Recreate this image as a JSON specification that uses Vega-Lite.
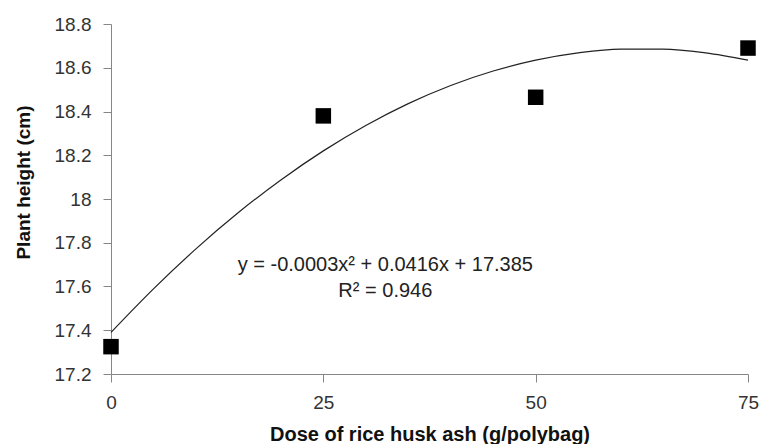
{
  "$schema": "https://vega.github.io/schema/vega-lite/v6.json",
  "width": 637,
  "height": 350,
  "autosize": "none",
  "padding": {"left": 111, "top": 24, "right": 13, "bottom": 70},
  "background": "white",
  "config": {"view": {"stroke": null}, "font": "Liberation Sans"},
  "datasets": {
    "curve": [
      {"x": 0, "y": 17.39}, {"x": 5, "y": 17.589}, {"x": 10, "y": 17.772}, {"x": 15, "y": 17.938},
      {"x": 20, "y": 18.087}, {"x": 25, "y": 18.22}, {"x": 30, "y": 18.336}, {"x": 35, "y": 18.436},
      {"x": 40, "y": 18.519}, {"x": 45, "y": 18.585}, {"x": 50, "y": 18.635}, {"x": 55, "y": 18.668},
      {"x": 60, "y": 18.685}, {"x": 65, "y": 18.685}, {"x": 70, "y": 18.668}, {"x": 75, "y": 18.635}
    ],
    "obs": [
      {"x": 0, "y": 17.325}, {"x": 25, "y": 18.38}, {"x": 50, "y": 18.465}, {"x": 75, "y": 18.69}
    ],
    "eq": [
      {"x": 32.3, "y": 17.698, "label": "y = -0.0003x² + 0.0416x + 17.385"},
      {"x": 32.3, "y": 17.579, "label": "R² = 0.946"}
    ]
  },
  "encoding": {
    "x": {
      "field": "x", "type": "quantitative",
      "scale": {"domain": [0, 75], "nice": false, "zero": false},
      "axis": {
        "values": [0, 25, 50, 75], "grid": false, "labelFlush": false,
        "domainColor": "#868686", "tickColor": "#868686", "tickSize": 8,
        "labelPadding": 11, "labelFontSize": 19, "labelColor": "#333",
        "title": "Dose of rice husk ash (g/polybag)", "titleFontSize": 20,
        "titleFontWeight": "bold", "titleColor": "#111",
        "titleBaseline": "alphabetic", "titleY": 66
      }
    },
    "y": {
      "field": "y", "type": "quantitative",
      "scale": {"domain": [17.2, 18.8], "nice": false, "zero": false},
      "axis": {
        "values": [17.2, 17.4, 17.6, 17.8, 18, 18.2, 18.4, 18.6, 18.8], "format": ".3~g", "grid": false, "labelFlush": false,
        "domainColor": "#868686", "tickColor": "#868686", "tickSize": 8,
        "labelPadding": 12, "labelFontSize": 19, "labelColor": "#333",
        "title": "Plant height (cm)", "titleFontSize": 19, "titleFontWeight": "bold", "titleColor": "#111",
        "titleBaseline": "bottom", "titleX": -78, "titleY": 158
      }
    }
  },
  "layer": [
    {
      "data": {"name": "curve"},
      "mark": {"type": "line", "color": "#222", "strokeWidth": 1.2, "interpolate": "monotone"}
    },
    {
      "data": {"name": "obs"},
      "mark": {"type": "square", "size": 240, "color": "black", "opacity": 1}
    },
    {
      "data": {"name": "eq"},
      "mark": {"type": "text", "fontSize": 20, "color": "#222", "align": "center", "baseline": "middle"},
      "encoding": {"text": {"field": "label"}}
    }
  ]
}
